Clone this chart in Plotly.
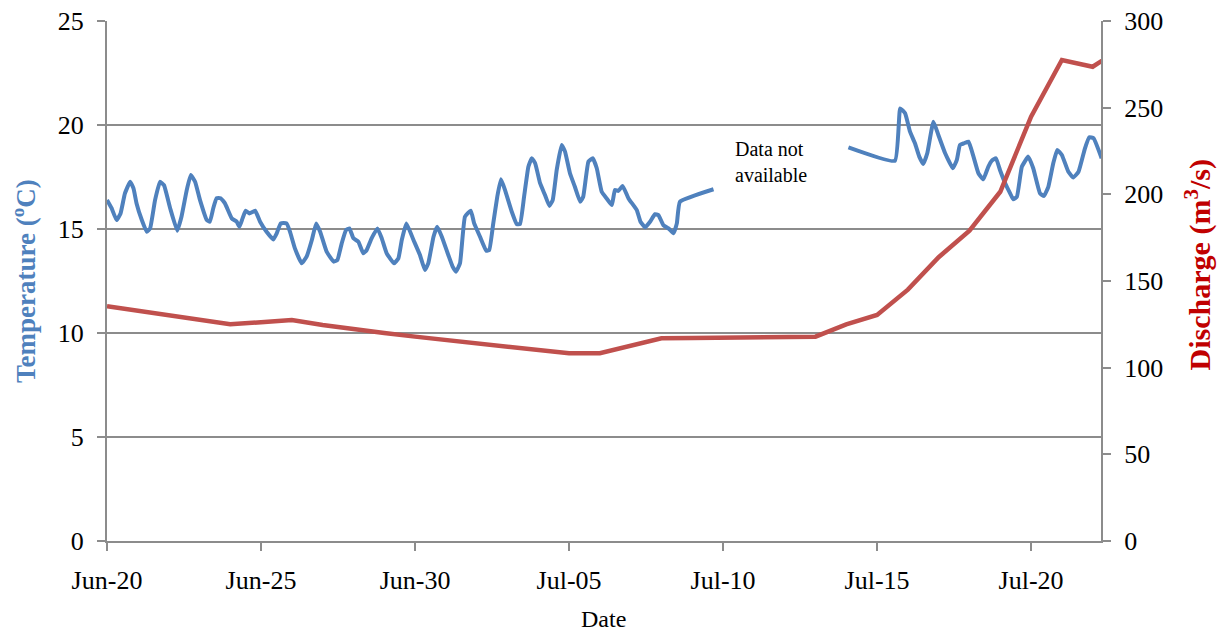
import pandas as pd
import plotly.graph_objects as go

# ---------------- data ----------------
start_date = "2011-06-20"

# Temperature (degC): time as days after Jun-20 00:00, None marks the data gap
temp_day = [0.00, 0.15, 0.31, 0.44, 0.58, 0.75, 0.86, 0.96, 1.13, 1.29, 1.40, 1.56, 1.72, 1.85,
            2.05, 2.28, 2.42, 2.59, 2.72, 2.86, 3.02, 3.24, 3.34, 3.45, 3.56, 3.69, 3.83, 4.05,
            4.21, 4.30, 4.40, 4.50, 4.62, 4.81, 4.97, 5.18, 5.40, 5.51, 5.64, 5.83, 5.94, 6.10,
            6.32, 6.48, 6.65, 6.79, 6.92, 7.13, 7.36, 7.48, 7.62, 7.76, 7.87, 8.00, 8.16, 8.32,
            8.43, 8.59, 8.78, 8.92, 9.08, 9.32, 9.46, 9.57, 9.72, 9.95, 10.16, 10.32, 10.43,
            10.60, 10.72, 10.87, 11.08, 11.22, 11.33, 11.46, 11.62, 11.81, 11.92, 12.11, 12.31,
            12.41, 12.54, 12.67, 12.79, 12.92, 13.14, 13.30, 13.41, 13.54, 13.68, 13.79, 13.90,
            14.06, 14.22, 14.36, 14.47, 14.60, 14.76, 14.87, 15.03, 15.19, 15.36, 15.46, 15.63,
            15.77, 15.90, 16.06, 16.22, 16.39, 16.49, 16.60, 16.74, 16.93, 17.20, 17.32, 17.47,
            17.63, 17.79, 17.90, 18.06, 18.23, 18.39, 18.50, 18.60, 19.69,
            21.50,
            24.07, 25.58, 25.75, 25.91, 26.07, 26.23, 26.37, 26.50, 26.63, 26.83, 26.99, 27.21,
            27.46, 27.59, 27.69, 27.82, 27.97, 28.13, 28.29, 28.45, 28.61, 28.72, 28.86, 28.99,
            29.16, 29.32, 29.42, 29.54, 29.70, 29.91, 30.07, 30.29, 30.42, 30.56, 30.72, 30.85,
            31.00, 31.21, 31.37, 31.54, 31.75, 31.89, 32.03, 32.29]
temp_c = [16.4, 16.0, 15.43, 15.75, 16.7, 17.27, 16.95, 16.23, 15.43, 14.87, 15.03, 16.39, 17.27, 17.11,
          16.0, 14.92, 15.6, 16.88, 17.6, 17.27, 16.39, 15.43, 15.35, 16.0, 16.48, 16.48, 16.23, 15.51,
          15.35, 15.11, 15.51, 15.88, 15.75, 15.88, 15.35, 14.87, 14.5, 14.79, 15.27, 15.27, 14.87, 14.07,
          13.35, 13.67, 14.47, 15.27, 14.87, 13.91, 13.43, 13.51, 14.31, 14.95, 15.03, 14.55, 14.39, 13.83,
          13.99, 14.55, 15.03, 14.55, 13.83, 13.35, 13.59, 14.47, 15.27, 14.47, 13.75, 13.03, 13.35,
          14.63, 15.11, 14.63, 13.75, 13.19, 12.95, 13.35, 15.59, 15.88, 15.27, 14.63, 13.96,
          13.99, 15.27, 16.55, 17.39, 16.88, 15.83, 15.24, 15.24, 16.55, 17.99, 18.4, 18.16,
          17.2, 16.63, 16.11, 16.39, 17.84, 19.04, 18.72, 17.68, 17.03, 16.31, 16.55, 18.24,
          18.4, 17.92, 16.79, 16.47, 16.15, 16.88, 16.83, 17.07, 16.47, 15.91, 15.35, 15.08,
          15.35, 15.71, 15.67, 15.19, 15.03, 14.79, 15.27, 16.31, 16.91,
          None,
          18.93, 18.28, 20.8, 20.56, 19.68, 19.12, 18.48, 18.13, 18.64, 20.16, 19.52, 18.64,
          17.92, 18.32, 19.04, 19.12, 19.2, 18.48, 17.68, 17.39, 17.99, 18.28, 18.4, 17.84,
          17.2, 16.71, 16.43, 16.55, 17.99, 18.48, 17.92, 16.71, 16.59, 17.03, 18.16, 18.8,
          18.56, 17.75, 17.48, 17.75, 18.88, 19.41, 19.36, 18.4]

# Discharge (m3/s), daily
discharge_date = ["2011-06-20", "2011-06-21", "2011-06-22", "2011-06-23", "2011-06-24", "2011-06-25",
                  "2011-06-26", "2011-06-27", "2011-06-28", "2011-06-29", "2011-06-30", "2011-07-01",
                  "2011-07-02", "2011-07-03", "2011-07-04", "2011-07-05", "2011-07-06", "2011-07-07",
                  "2011-07-08", "2011-07-09", "2011-07-10", "2011-07-11", "2011-07-12", "2011-07-13",
                  "2011-07-14", "2011-07-15", "2011-07-16", "2011-07-17", "2011-07-18", "2011-07-19",
                  "2011-07-20", "2011-07-21", "2011-07-22", "2011-07-23"]
discharge = [135.5, 133.0, 130.4, 127.5, 125.0, 126.2, 127.5, 124.6, 122.1, 120.0, 117.9, 116.0,
             114.0, 112.1, 110.0, 108.3, 108.3, 112.5, 116.9, 117.1, 117.3, 117.5, 117.7, 117.9,
             125.0, 130.4, 145.0, 163.7, 179.0, 201.5, 244.8, 277.5, 273.6, 285.0]

x_ticks_every_days = 5
x_end_days = 32.27

# ---------------- figure ----------------
base = pd.Timestamp(start_date)
temp_x = [base + pd.Timedelta(days=d) for d in temp_day]
x_end = base + pd.Timedelta(days=x_end_days)

BLUE = "#4F81BD"
RED = "#C0504D"
GRID = "#8C8C8C"
FONT = "Liberation Serif"
TICKFONT = dict(family=FONT, size=26, color="black")

fig = go.Figure()
fig.add_trace(go.Scatter(x=temp_x, y=temp_c, mode="lines", name="Temperature",
                         line=dict(color=BLUE, width=4, shape="spline", smoothing=0.35),
                         connectgaps=False))
fig.add_trace(go.Scatter(x=pd.to_datetime(discharge_date), y=discharge, mode="lines",
                         name="Discharge", yaxis="y2",
                         line=dict(color=RED, width=4.5)))

fig.update_layout(
    width=1222, height=634,
    margin=dict(l=107, r=121, t=21, b=93, autoexpand=False),
    paper_bgcolor="white", plot_bgcolor="white",
    showlegend=False,
    font=dict(family=FONT, size=24, color="black"),
    xaxis=dict(
        type="date", range=[base, x_end], automargin=False,
        tick0=base, dtick=x_ticks_every_days * 86400000, tickformat="%b-%d",
        ticks="outside", ticklen=8, tickwidth=1.5, tickcolor=GRID,
        showline=True, linecolor=GRID, linewidth=2,
        showgrid=False, zeroline=False,
        tickfont=TICKFONT, ticklabelstandoff=7,
    ),
    yaxis=dict(
        range=[0, 25], dtick=5, tick0=0, automargin=False,
        ticks="outside", ticklen=8, tickwidth=1.5, tickcolor=GRID,
        showline=True, linecolor=GRID, linewidth=2,
        showgrid=True, gridcolor=GRID, gridwidth=1.5, zeroline=False,
        tickfont=TICKFONT, ticklabelstandoff=8,
    ),
    yaxis2=dict(
        range=[0, 300], dtick=50, tick0=0, overlaying="y", side="right", automargin=False,
        ticks="outside", ticklen=8, tickwidth=1.5, tickcolor=GRID,
        showline=True, linecolor=GRID, linewidth=2,
        showgrid=False, zeroline=False,
        tickfont=TICKFONT, ticklabelstandoff=8,
    ),
    annotations=[
        dict(text="Data not<br>available", x=base + pd.Timedelta(days=21.55), y=18.2,
             xref="x", yref="y", showarrow=False, align="left",
             font=dict(family=FONT, size=20, color="black")),
        dict(text="Temperature (<sup>o</sup>C)", x=-0.0835, y=0.5, xref="paper", yref="paper",
             textangle=-90, showarrow=False, xanchor="center", yanchor="middle",
             font=dict(family=FONT, size=27, color=BLUE, weight="bold")),
        dict(text="Discharge (m<sup>3</sup>/s)", x=1.0976, y=0.53, xref="paper", yref="paper",
             textangle=-90, showarrow=False, xanchor="center", yanchor="middle",
             font=dict(family=FONT, size=30, color="#C00000", weight="bold")),
        dict(text="Date", x=0.499, y=-0.1788, xref="paper", yref="paper",
             showarrow=False, xanchor="center", yanchor="bottom",
             font=dict(family=FONT, size=24, color="black")),
    ],
)

fig.write_html("out.html")
